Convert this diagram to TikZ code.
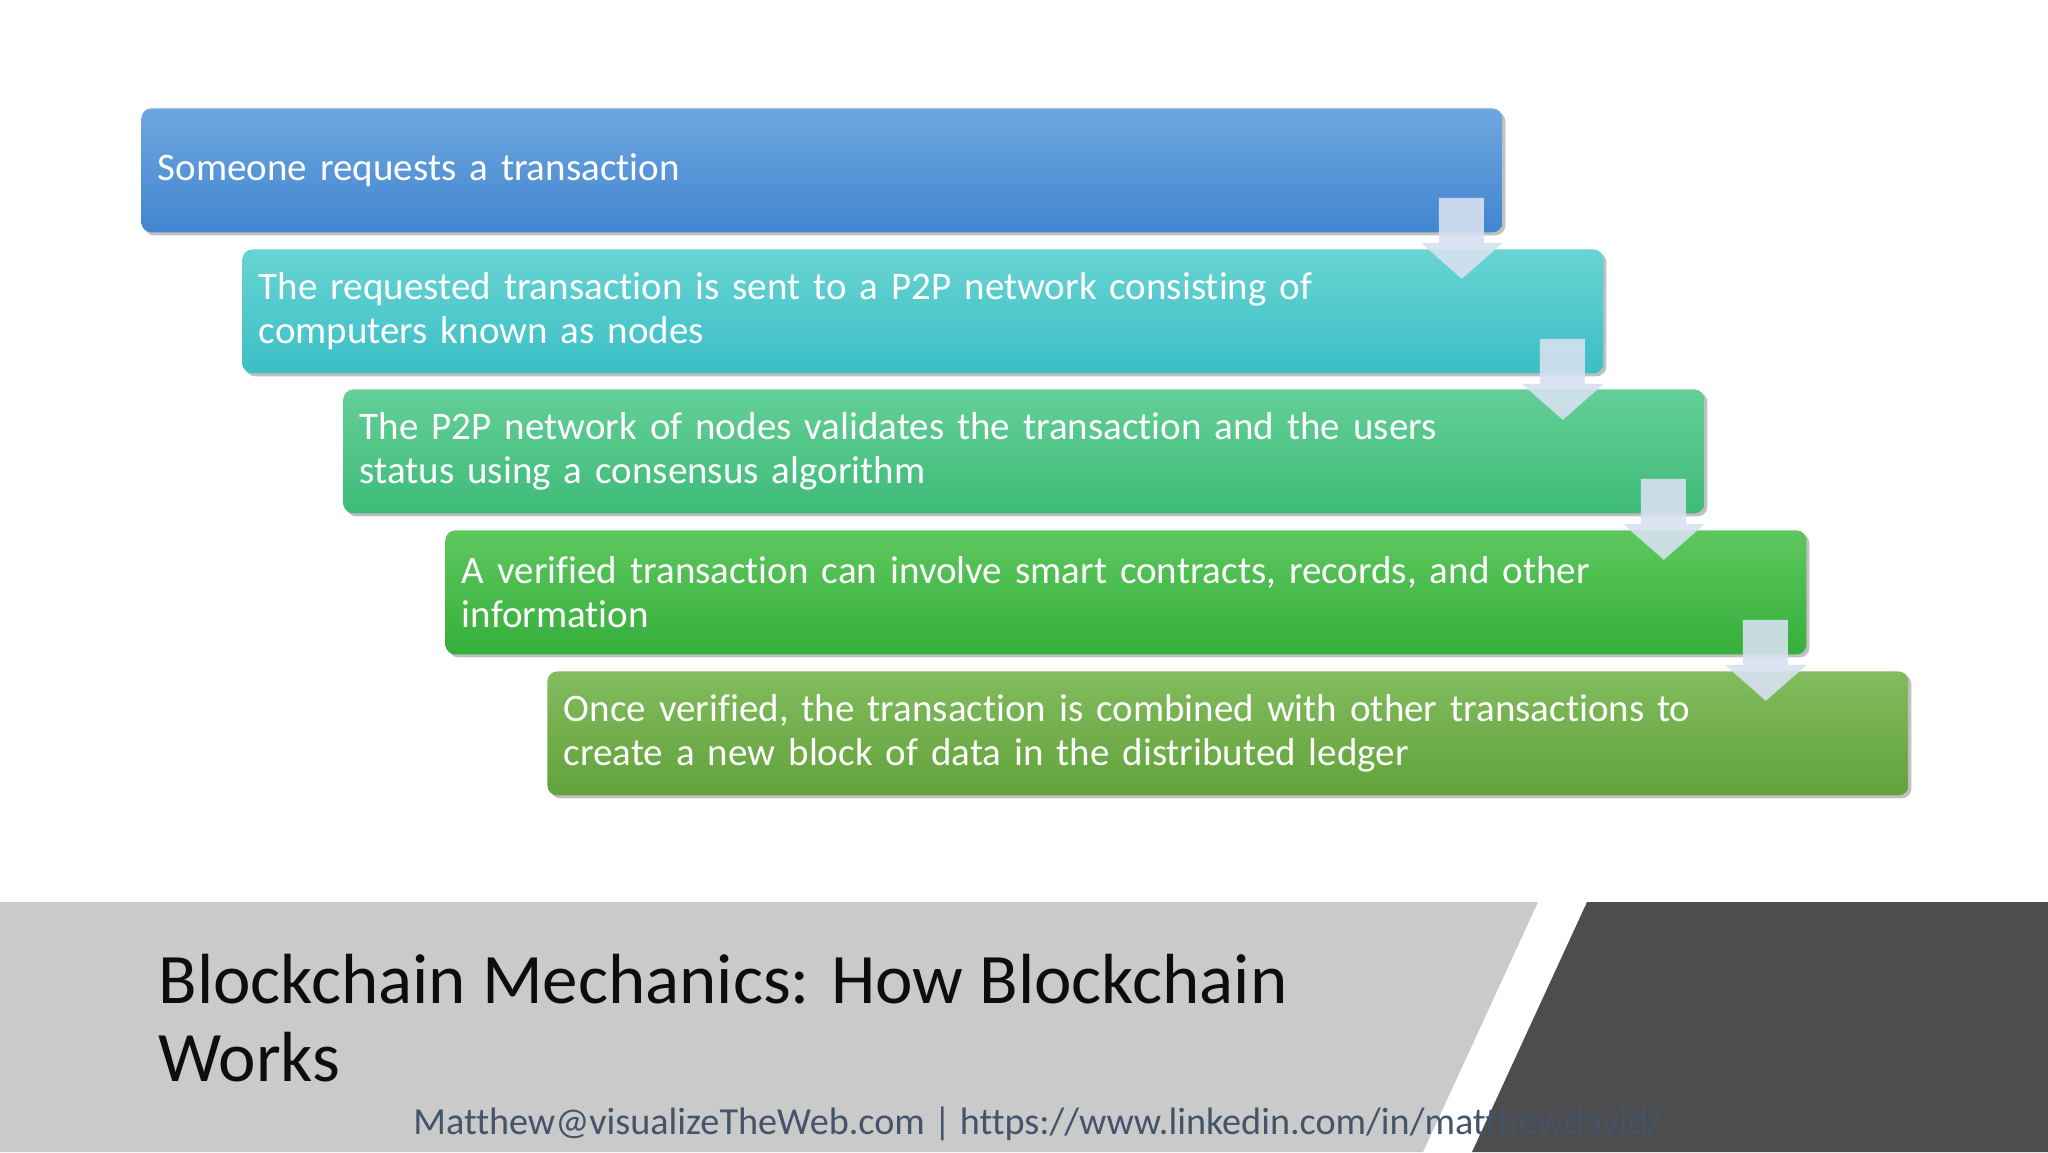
\documentclass[tikz,border=0pt]{standalone}
\usepackage{fontspec}
\setmainfont{Carlito}[Ligatures=NoCommon]
\usetikzlibrary{calc,shadows}
\definecolor{c1top}{HTML}{6FA7DF}
\definecolor{c1bot}{HTML}{4185D0}
\definecolor{c2top}{HTML}{68D4D2}
\definecolor{c2bot}{HTML}{3BBFC6}
\definecolor{c3top}{HTML}{64CF97}
\definecolor{c3bot}{HTML}{3EBB78}
\definecolor{c4top}{HTML}{5EC75E}
\definecolor{c4bot}{HTML}{35AF3B}
\definecolor{c5top}{HTML}{82BC5E}
\definecolor{c5bot}{HTML}{62A23A}
\definecolor{arrowfill}{RGB}{215,225,240}
\definecolor{bandgrey}{HTML}{CBCACB}
\definecolor{banddark}{HTML}{4D4C4E}
\definecolor{footertext}{HTML}{44546A}
\begin{document}
\begin{tikzpicture}[x=0.5pt,y=-0.5pt,
  stepbox/.style={rounded corners=5pt, minimum width=680.5pt, minimum height=62pt,
    anchor=north west, inner xsep=8pt, inner ysep=0pt, text width=664pt, align=left,
    text=white, font=\fontsize{19.5}{22}\selectfont,
    drop shadow={shadow xshift=1.5pt, shadow yshift=-1.5pt, opacity=0.35, fill=black!70}},
  blockarrow/.style={fill=arrowfill, fill opacity=0.9},
  titletext/.style={anchor=base west, align=left, inner sep=0pt, text=black!95,
    font=\fontsize{35.5}{39}\selectfont},
  footer/.style={anchor=base west, inner sep=0pt, text=footertext,
    font=\fontsize{19.1}{22}\selectfont}]
\useasboundingbox (0,0) rectangle (2048,1152);
\fill[white] (0,0) rectangle (2048,1152);

% footer band
\fill[bandgrey] (0,902) -- (1538,902) -- (1423,1152) -- (0,1152) -- cycle;
\fill[banddark] (1587,902) -- (2048,902) -- (2048,1152) -- (1472,1152) -- cycle;

% boxes
\node[stepbox, top color=c1top, bottom color=c1bot] (b1) at (141,108) {Someone requests a transaction};
\node[stepbox, top color=c2top, bottom color=c2bot] (b2) at (242,249) {The requested transaction is sent to a P2P network consisting of\\computers known as nodes};
\node[stepbox, top color=c3top, bottom color=c3bot] (b3) at (343,389) {The P2P network of nodes validates the transaction and the users\\status using a consensus algorithm};
\node[stepbox, top color=c4top, bottom color=c4bot] (b4) at (445,530) {A verified transaction can involve smart contracts, records, and other\\information};
\node[stepbox, top color=c5top, bottom color=c5bot] (b5) at (547,671) {Once verified, the transaction is combined with other transactions to\\create a new block of data in the distributed ledger};

% block arrows
\foreach \a in {b1,b2,b3,b4}{
  \path[blockarrow] ($(\a.south east)+(-64,-35)$) -- ($(\a.south east)+(-19,-35)$)
    -- ($(\a.south east)+(-19,10)$) -- ($(\a.south east)+(0,10)$)
    -- ($(\a.south east)+(-41,46)$) -- ($(\a.south east)+(-82,10)$)
    -- ($(\a.south east)+(-64,10)$) -- cycle;
}

% title and footer
\node[titletext] (title) at (158,1081) {Blockchain Mechanics: How Blockchain\\Works};
\node[footer] (contact) at (413,1134) {Matthew@visualizeTheWeb.com | https://www.linkedin.com/in/matthewdavid/};
\end{tikzpicture}
\end{document}
